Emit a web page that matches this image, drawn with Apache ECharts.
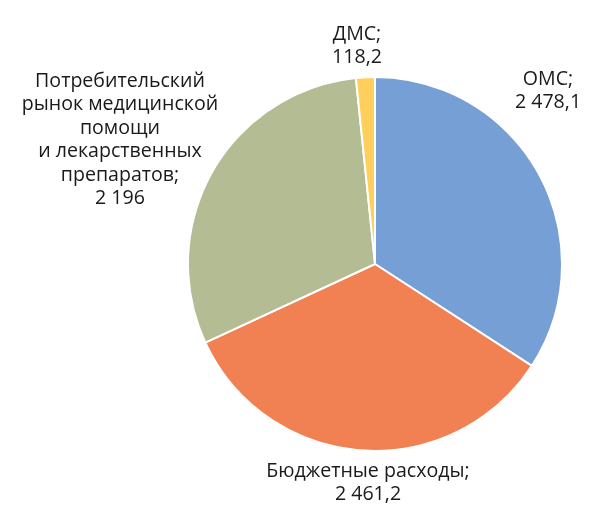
<!DOCTYPE html>
<html>
<head>
<meta charset="utf-8">
<script src="https://cdn.jsdelivr.net/npm/echarts@6/dist/echarts.min.js"></script>
<style>
  html, body { margin: 0; padding: 0; background: #fff; }
  #chart { width: 600px; height: 529px; }
</style>
</head>
<body>
<div id="chart"></div>
<script>
var categories = ['ОМС', 'Бюджетные расходы', 'Потребительский\nрынок медицинской\nпомощи\nи лекарственных\nпрепаратов', 'ДМС'];
var values = [2478.1, 2461.2, 2196, 118.2];
var colors = ['#769fd6', '#f18052', '#b3bc92', '#fecf5b'];

// label anchor points (centre of text block), by slice
var labelSpots = [
  { x: 548, y: 91 },
  { x: 368, y: 483 },
  { x: 120, y: 140 },
  { x: 357, y: 46 }
];

function fmtRu(v) {
  var parts = String(v).split('.');
  var intPart = parts[0].replace(/\B(?=(\d{3})+(?!\d))/g, ' ');
  return parts.length > 1 ? intPart + ',' + parts[1] : intPart;
}

var chart = echarts.init(document.getElementById('chart'));
var option = {
  animation: false,
  color: colors,
  textStyle: { fontFamily: 'Open Sans' },
  series: [{
    type: 'pie',
    center: [375, 264],
    radius: 187,
    startAngle: 90,
    clockwise: true,
    avoidLabelOverlap: false,
    data: categories.map(function (c, i) { return { name: c, value: values[i] }; }),
    itemStyle: { borderColor: '#fff', borderWidth: 2 },
    label: {
      show: true,
      position: 'outside',
      color: '#1a1a1a',
      fontSize: 19.6,
      lineHeight: 23.5,
      align: 'center',
      overflow: 'none',
      fontFamily: 'Open Sans',
      formatter: function (p) { return p.name + ';\n' + fmtRu(p.value); }
    },
    labelLine: { show: false },
    labelLayout: function (p) {
      var s = labelSpots[p.dataIndex];
      return { x: s.x, y: s.y, align: 'center', verticalAlign: 'middle', hideOverlap: false };
    },
    emphasis: { disabled: true }
  }]
};
chart.setOption(option);
</script>
</body>
</html>
